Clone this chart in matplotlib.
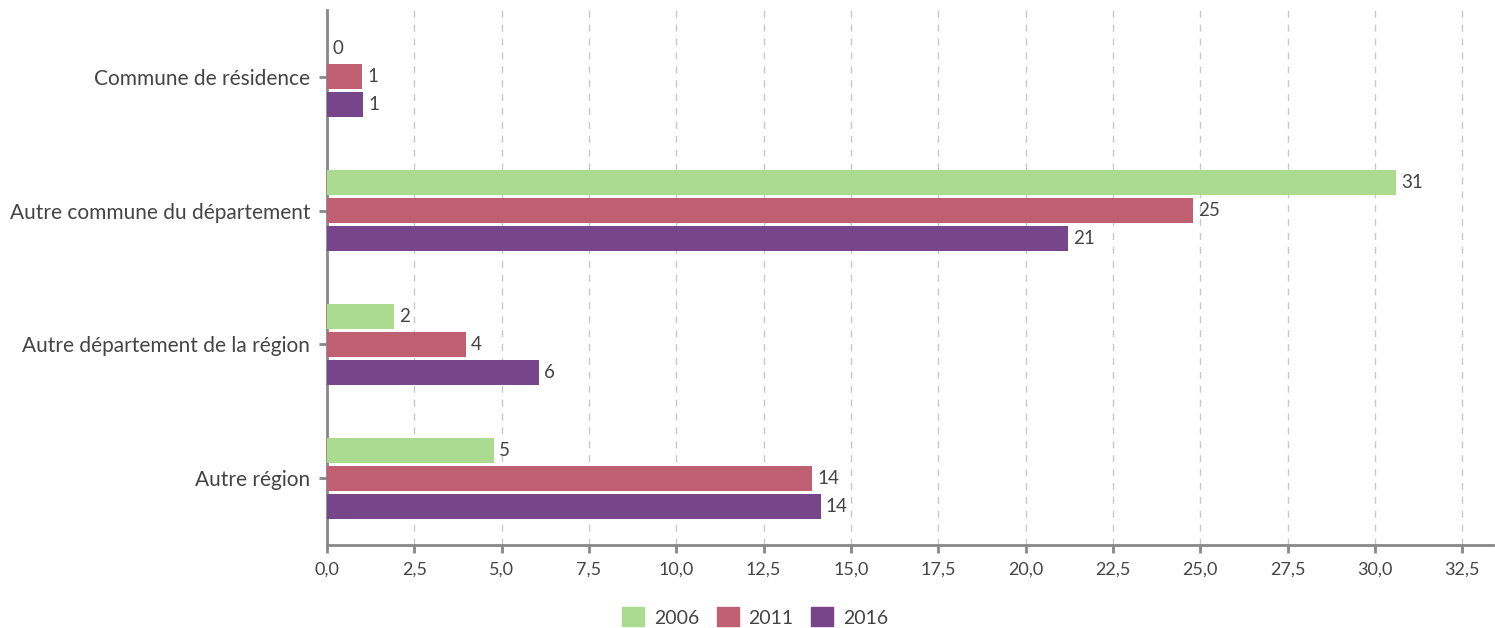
import numpy as np
import matplotlib
matplotlib.use("Agg")
import matplotlib.pyplot as plt
from matplotlib.patches import Patch

plt.rcParams['font.family'] = ['Lato', 'DejaVu Sans']

categories = ["Commune de résidence", "Autre commune du département",
              "Autre département de la région", "Autre région"]
years = ["2006", "2011", "2016"]
v2006 = [0.0, 30.6, 1.92, 4.78]
v2011 = [1.0, 24.78, 3.98, 13.88]
v2016 = [1.03, 21.2, 6.07, 14.13]
colors = ["#abdb8f", "#c05f71", "#77458a"]
xticks = [0, 2.5, 5, 7.5, 10, 12.5, 15, 17.5, 20, 22.5, 25, 27.5, 30, 32.5]

txt = "#444444"
axc = "#888888"

fig = plt.figure(figsize=(14.95, 6.28), dpi=100)
ax = fig.add_axes([0.2187, 0.1322, 0.78, 0.8518])

y = np.arange(len(categories))
step = 0.209
h = 0.187
for i, (vals, col) in enumerate(zip([v2006, v2011, v2016], colors)):
    pos = y + (i - 1) * step
    ax.barh(pos, vals, height=h, color=col, zorder=3)
    for p, v in zip(pos, vals):
        ax.text(v + 0.15, p, "{:.0f}".format(v), va="center", ha="left",
                fontsize=13.5, color=txt, zorder=4)

ax.set_ylim(3.5, -0.5)
ax.set_xlim(0, 33.38)
ax.set_yticks(y)
ax.set_yticklabels(categories, fontsize=15, color=txt)
ax.set_xticks(xticks)
ax.set_xticklabels(["{:.1f}".format(t).replace(".", ",") for t in xticks],
                   fontsize=13, color=txt)

ax.grid(axis="x", color="#c8c8c8", linestyle=(0, (5, 5)), linewidth=1, zorder=0)
for s in ["top", "right"]:
    ax.spines[s].set_visible(False)
for s in ["left", "bottom"]:
    ax.spines[s].set_color(axc)
    ax.spines[s].set_linewidth(2)
ax.tick_params(axis="x", colors=axc, length=6, width=2, labelcolor=txt, pad=6)
ax.tick_params(axis="y", colors=axc, length=6, width=2, labelcolor=txt, pad=6)

handles = [Patch(color=c, label=yr) for c, yr in zip(colors, years)]
fig.legend(handles=handles, loc="center", bbox_to_anchor=(0.505, 0.0175),
           ncol=3, frameon=False, fontsize=14, handlelength=1.13, handleheight=1.13,
           columnspacing=0.9, handletextpad=0.5, labelcolor=txt,
           borderpad=0, borderaxespad=0)

fig.savefig("out.png", dpi=100)
